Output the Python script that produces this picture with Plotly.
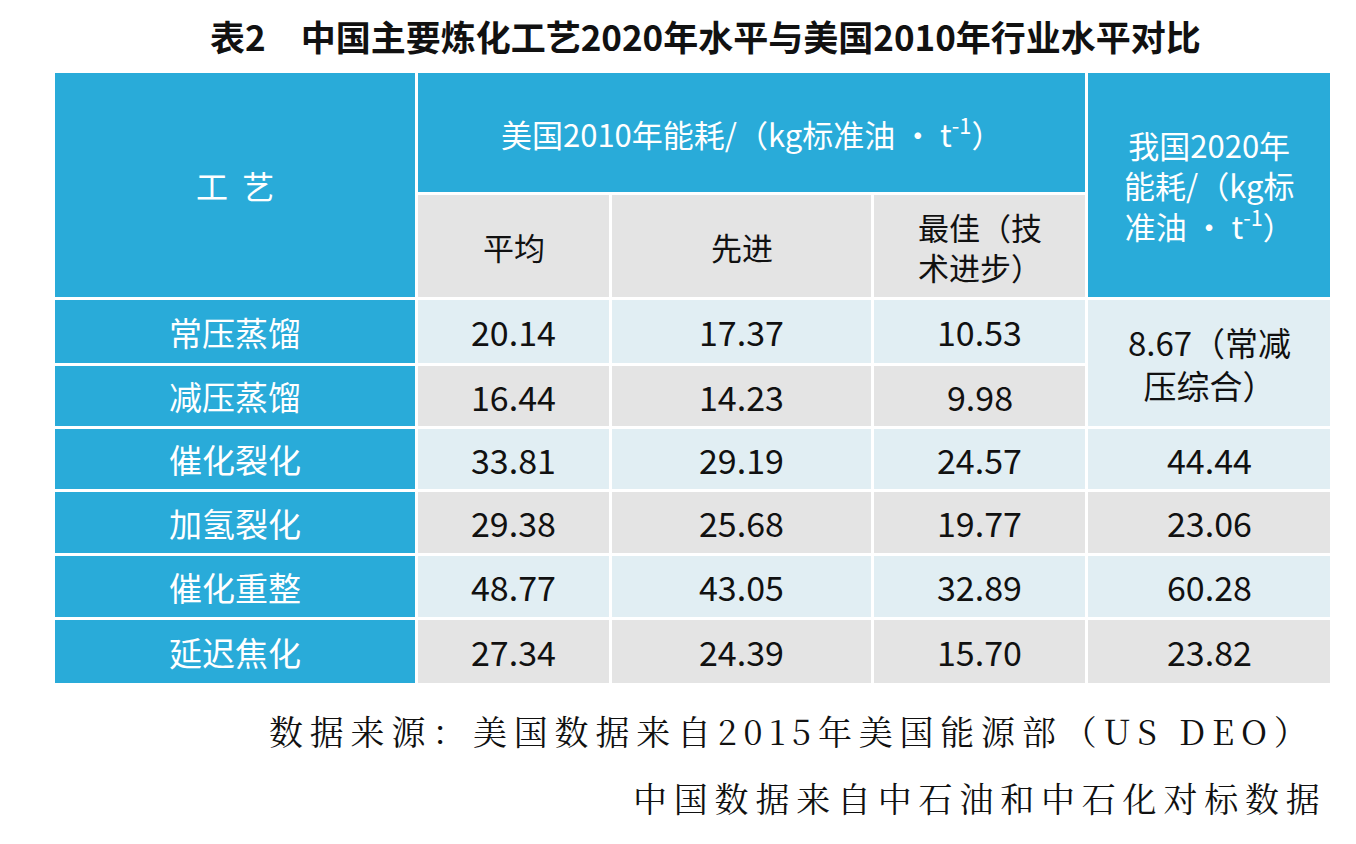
import plotly.graph_objects as go

processes = ["常压蒸馏", "减压蒸馏", "催化裂化", "加氢裂化", "催化重整", "延迟焦化"]
us_avg = ["20.14", "16.44", "33.81", "29.38", "48.77", "27.34"]
us_adv = ["17.37", "14.23", "29.19", "25.68", "43.05", "24.39"]
us_best = ["10.53", "9.98", "24.57", "19.77", "32.89", "15.70"]
cn_2020 = ["8.67（常减<br>压综合）", None, "44.44", "23.06", "60.28", "23.82"]

title = "表2　中国主要炼化工艺2020年水平与美国2010年行业水平对比"
notes = ["数据来源：美国数据来自2015年美国能源部（US DEO）", "中国数据来自中石油和中石化对标数据"]

BLUE = "#29abd9"
LIGHT = "#e1eef3"
GRAY = "#e4e4e4"
FONT = "Noto Sans CJK SC"

cols = [(47, 407), (410, 601), (604, 863), (866, 1077), (1080, 1322)]
rows = [(292, 355), (358, 418), (421, 481), (484, 545), (548, 609), (612, 675)]

fig = go.Figure()
shapes = []
ann = []

def cell(x0, x1, y0, y1, color, text=None, tcolor="#111", size=34):
    shapes.append(dict(type="rect", xref="x", yref="y", x0=x0, x1=x1, y0=y0, y1=y1,
                       fillcolor=color, line=dict(width=0), layer="below"))
    if text:
        ann.append(dict(x=(x0 + x1) / 2, y=(y0 + y1) / 2, xref="x", yref="y", text=text,
                        showarrow=False, font=dict(family=FONT, size=size, color=tcolor)))

# header
cell(47, 407, 65, 289, BLUE, "工  艺", "white", 32)
cell(410, 1077, 65, 184, BLUE, "美国2010年能耗/（kg标准油 · t<sup>-1</sup>）", "white", 31)
cell(1080, 1322, 65, 289, BLUE, "我国2020年<br>能耗/（kg标<br>准油 · t<sup>-1</sup>）", "white", 31)
cell(410, 601, 187, 289, GRAY, "平均", size=31)
cell(604, 863, 187, 289, GRAY, "先进", size=31)
cell(866, 1077, 187, 289, GRAY, "最佳（技<br>术进步）", size=31)

for i, (y0, y1) in enumerate(rows):
    bg = LIGHT if i % 2 == 0 else GRAY
    cell(*cols[0], y0, y1, BLUE, processes[i], "white", 33)
    for c, vals in zip(cols[1:4], [us_avg, us_adv, us_best]):
        cell(*c, y0, y1, bg, vals[i])
    if i == 0:
        cell(*cols[4], rows[0][0], rows[1][1], LIGHT, cn_2020[0], size=33)
    elif cn_2020[i]:
        cell(*cols[4], y0, y1, bg, cn_2020[i])

spaced = ["\u2009".join(n) for n in notes]
ann.append(dict(x=697, y=27, xref="x", yref="y", text="<b>" + title + "</b>", showarrow=False,
                font=dict(family=FONT, size=35, color="#111")))
ann.append(dict(x=1302, y=722, xref="x", yref="y", text=spaced[0], showarrow=False, xanchor="right",
                font=dict(family="Noto Serif CJK SC, " + FONT, size=34, color="#111")))
ann.append(dict(x=1314, y=789, xref="x", yref="y", text=spaced[1], showarrow=False, xanchor="right",
                font=dict(family="Noto Serif CJK SC, " + FONT, size=34, color="#111")))

fig.update_layout(width=1356, height=844, margin=dict(l=0, r=0, t=0, b=0),
                  plot_bgcolor="white", paper_bgcolor="white", shapes=shapes, annotations=ann,
                  xaxis=dict(range=[0, 1356], visible=False, fixedrange=True),
                  yaxis=dict(range=[844, 0], visible=False, fixedrange=True))
fig.write_html("out.html")
